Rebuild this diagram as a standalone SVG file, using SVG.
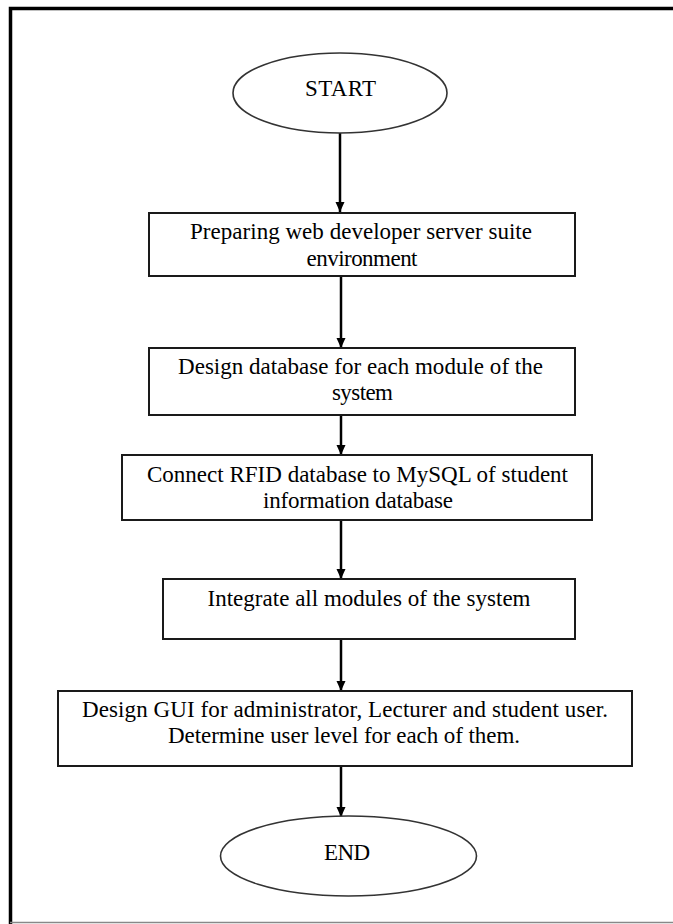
<svg xmlns="http://www.w3.org/2000/svg" width="673" height="924" viewBox="0 0 673 924">
<style>
  .box { fill: #fff; stroke: #1a1a1a; stroke-width: 2; }
  .term { fill: #fff; stroke: #333; stroke-width: 1.6; }
  .lbl { font-family: "Liberation Serif", "Times New Roman", serif; font-size: 23px; fill: #000; text-anchor: middle; }
  .conn { stroke: #000; stroke-width: 2.5; fill: none; marker-end: url(#arrow); }
</style>
<defs>
  <marker id="arrow" markerUnits="userSpaceOnUse" markerWidth="10" markerHeight="10" viewBox="0 0 10 10" refX="10" refY="5" orient="auto">
    <path d="M0,0.5 L10,5 L0,9.5 z" fill="#000"/>
  </marker>
</defs>
<rect x="0" y="0" width="673" height="924" fill="#fff"/>
<g id="frame">
  <path d="M10.5,924 V8.5 H673" fill="none" stroke="#000" stroke-width="3.5"/>
  <line x1="10" y1="922.5" x2="673" y2="922.5" stroke="#888" stroke-width="1.5"/>
</g>
<g id="connectors">
  <line class="conn" x1="340" y1="133" x2="340" y2="212"/>
  <line class="conn" x1="341" y1="277" x2="341" y2="348"/>
  <line class="conn" x1="341" y1="416" x2="341" y2="455"/>
  <line class="conn" x1="341" y1="521" x2="341" y2="579"/>
  <line class="conn" x1="341" y1="640" x2="341" y2="691"/>
  <line class="conn" x1="341" y1="767" x2="341" y2="817"/>
</g>
<g id="start">
  <ellipse class="term" cx="340" cy="93" rx="107" ry="40"/>
  <text class="lbl" x="340.5" y="96" textLength="71" lengthAdjust="spacing">START</text>
</g>
<g id="step1">
  <rect class="box" x="149" y="213" width="426" height="63"/>
  <text class="lbl" x="361" y="239" textLength="342" lengthAdjust="spacing">Preparing web developer  server suite</text>
  <text class="lbl" x="362" y="266" textLength="111" lengthAdjust="spacing">environment</text>
</g>
<g id="step2">
  <rect class="box" x="149" y="348" width="426" height="67"/>
  <text class="lbl" x="360.5" y="374" textLength="365" lengthAdjust="spacing">Design database  for each  module  of the</text>
  <text class="lbl" x="362.5" y="400" textLength="61" lengthAdjust="spacing">system</text>
</g>
<g id="step3">
  <rect class="box" x="122" y="455" width="470" height="65"/>
  <text class="lbl" x="357.5" y="482" textLength="421" lengthAdjust="spacing">Connect RFID database  to MySQL of student</text>
  <text class="lbl" x="358" y="508" textLength="190" lengthAdjust="spacing">information  database</text>
</g>
<g id="step4">
  <rect class="box" x="163" y="579" width="412" height="60"/>
  <text class="lbl" x="369" y="606" textLength="323" lengthAdjust="spacing">Integrate all modules of the system</text>
</g>
<g id="step5">
  <rect class="box" x="58" y="691" width="574" height="75"/>
  <text class="lbl" x="345" y="717" textLength="526" lengthAdjust="spacing">Design GUI for administrator,  Lecturer  and student user.</text>
  <text class="lbl" x="344" y="743" textLength="352" lengthAdjust="spacing">Determine user level  for each  of them.</text>
</g>
<g id="end">
  <ellipse class="term" cx="348.5" cy="856" rx="128" ry="40"/>
  <text class="lbl" x="347" y="860" textLength="46" lengthAdjust="spacing">END</text>
</g>
</svg>
